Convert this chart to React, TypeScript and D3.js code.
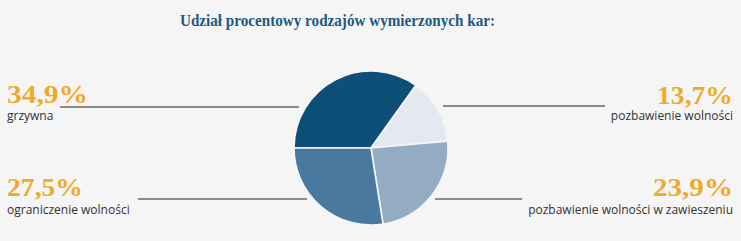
import React from "react";
import * as d3 from "d3";

const categories = ["grzywna", "pozbawienie wolności", "pozbawienie wolności w zawieszeniu", "ograniczenie wolności"];
const values = [34.9, 13.7, 23.9, 27.5];
const valueLabels = ["34,9%", "13,7%", "23,9%", "27,5%"];
const colors = ["#0e4f78", "#e4e8f0", "#94abc4", "#4a79a0"];
const title = "Udział procentowy rodzajów wymierzonych kar:";

const W = 741, H = 241;
const cx = 371, cy = 148, R = 77;

const placements: Record<number, { side: "left" | "right"; ny: number; nw: number; ly: number; x1: number; x2: number; y: number }> = {
  0: { side: "left", ny: 103, nw: 81, ly: 120, x1: 60, x2: 299, y: 107 },
  1: { side: "right", ny: 104, nw: 76, ly: 120, x1: 443, x2: 605, y: 106 },
  2: { side: "right", ny: 196, nw: 80, ly: 214, x1: 435, x2: 522, y: 199 },
  3: { side: "left", ny: 196, nw: 76, ly: 214, x1: 138, x2: 307, y: 199 },
};

export default function App() {
  const pie = d3
    .pie<number>()
    .sort(null)
    .startAngle(-Math.PI / 2)
    .endAngle((3 * Math.PI) / 2)(values);
  const arc = d3.arc<d3.PieArcDatum<number>>().innerRadius(0).outerRadius(R);

  return (
    <svg width={W} height={H} style={{ position: "absolute", left: 0, top: 0 }}>
      <rect width={W} height={H} fill="#f5f5f5" />
      <text
        x={180}
        y={26}
        fontFamily="'Liberation Serif', serif"
        fontWeight="bold"
        fontSize={16.5}
        fill="#1c5a84"
        textLength={315}
        lengthAdjust="spacingAndGlyphs"
      >
        {title}
      </text>
      {categories.map((c, i) => {
        const p = placements[i];
        return (
          <line key={"l" + i} x1={p.x1} x2={p.x2} y1={p.y} y2={p.y} stroke="#222" strokeWidth={1.2} />
        );
      })}
      <g transform={`translate(${cx},${cy})`}>
        {pie.map((d, i) => (
          <path key={i} d={arc(d) || ""} fill={colors[i]} stroke="#f5f5f5" strokeWidth={1.6} />
        ))}
      </g>
      {categories.map((c, i) => {
        const p = placements[i];
        const x = p.side === "left" ? 7 : 733;
        const nx = p.side === "left" ? 7 : 733 - p.nw;
        const anchor = p.side === "left" ? "start" : "end";
        return (
          <g key={"t" + i}>
            <text
              x={nx}
              y={p.ny}
              fontFamily="'Liberation Serif', serif"
              fontWeight="bold"
              fontSize={26}
              fill="#eeaa2a"
              textLength={p.nw}
              lengthAdjust="spacingAndGlyphs"
            >
              {valueLabels[i]}
            </text>
            <text
              x={x}
              y={p.ly}
              textAnchor={anchor}
              fontFamily="'Open Sans', sans-serif"
              fontSize={12}
              fill="#333"
            >
              {c}
            </text>
          </g>
        );
      })}
    </svg>
  );
}
